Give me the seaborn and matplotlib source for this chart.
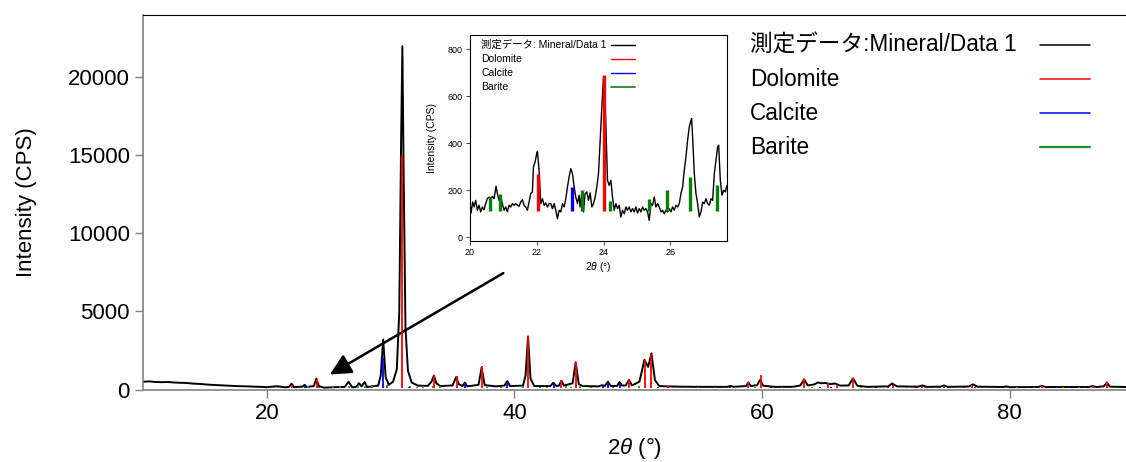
"""
XRD pattern with reference sticks (Dolomite / Calcite / Barite) and a zoomed inset.
"""

import numpy as np
import matplotlib
matplotlib.use('Agg')
import matplotlib.pyplot as plt
import seaborn as sns
from matplotlib.lines import Line2D

# ---------------------------------------------------------------------------
# Data

# measured pattern, full range (2theta in deg, intensity in CPS)
scan_x = [10.0, 10.5, 11.0, 11.5, 12.0, 12.5, 13.0, 13.5, 14.0, 14.5, 15.0, 15.5,
          16.0, 16.5, 17.0, 17.5, 18.0, 18.5, 19.0, 19.5, 20.0, 20.8, 21.5, 21.8,
          22.0, 22.2, 22.9, 23.05, 23.2, 23.8, 24.0, 24.2, 24.6, 26.3, 26.6, 26.9,
          27.2, 27.45, 27.65, 27.9, 28.1, 29.0, 29.2, 29.4, 29.6, 29.85, 30.2, 30.5,
          30.7, 30.85, 30.95, 31.05, 31.2, 31.4, 31.7, 32.2, 33.0, 33.3, 33.5, 33.7,
          34.0, 35.0, 35.3, 35.5, 35.8, 36.0, 36.2, 37.1, 37.35, 37.6, 38.5, 39.2,
          39.42, 39.65, 40.7, 40.9, 41.1, 41.3, 41.6, 42.9, 43.15, 43.4, 43.6, 43.8,
          44.0, 44.7, 44.95, 45.2, 45.5, 46.8, 47.1, 47.3, 47.55, 47.8, 48.3, 48.5,
          48.7, 49.0, 49.25, 49.5, 50.1, 50.5, 50.8, 51.07, 51.35, 51.7, 52.35, 53.5,
          55.0, 57.2, 57.45, 57.7, 58.7, 58.9, 59.1, 59.6, 59.85, 60.1, 61.0, 62.5,
          63.1, 63.4, 63.7, 64.2, 64.5, 64.8, 65.1, 65.5, 65.9, 66.3, 67.0, 67.35,
          67.7, 68.5, 70.2, 70.5, 70.9, 72.6, 72.95, 73.3, 74.4, 74.7, 75.0, 76.7,
          77.05, 77.4, 79.5, 79.75, 80.0, 82.3, 82.6, 82.9, 86.4, 86.7, 87.0, 87.6,
          87.85, 88.1, 89.4]
scan_y = [500, 520, 480, 470, 480, 450, 430, 420, 380, 360, 330, 300,
          280, 260, 240, 220, 210, 200, 180, 170, 150, 210, 140, 170,
          370, 150, 190, 300, 160, 220, 700, 220, 120, 170, 500, 140,
          160, 400, 200, 480, 160, 250, 900, 3200, 800, 300, 500, 1300,
          5000, 16000, 22000, 14000, 4000, 1200, 450, 250, 230, 500, 900, 400,
          220, 260, 800, 350, 220, 440, 200, 300, 1400, 280, 200, 250,
          540, 220, 250, 900, 3400, 700, 220, 220, 430, 220, 250, 560,
          250, 400, 1750, 350, 220, 200, 280, 220, 500, 220, 230, 480,
          250, 260, 620, 260, 500, 1900, 1450, 2320, 600, 220, 200, 180,
          170, 170, 230, 170, 220, 450, 220, 280, 620, 240, 170, 170,
          260, 650, 260, 320, 450, 400, 420, 350, 380, 250, 260, 720,
          240, 170, 200, 390, 200, 180, 260, 170, 180, 260, 170, 190,
          330, 180, 160, 200, 150, 160, 230, 160, 160, 220, 160, 200,
          450, 180, 160]

# measured pattern, zoomed region 20-27.7 deg
zoom_x = [20.00, 20.03, 20.08, 20.12, 20.17, 20.22, 20.27, 20.32, 20.37, 20.42, 20.47,
          20.52, 20.57, 20.62, 20.67, 20.72, 20.78, 20.82, 20.87, 20.92, 20.97, 21.02,
          21.07, 21.12, 21.17, 21.22, 21.27, 21.32, 21.37, 21.42, 21.47, 21.52, 21.57,
          21.62, 21.67, 21.72, 21.77, 21.82, 21.87, 21.90, 21.95, 22.00, 22.02, 22.07,
          22.12, 22.17, 22.22, 22.27, 22.32, 22.37, 22.42, 22.47, 22.52, 22.57, 22.62,
          22.67, 22.72, 22.77, 22.82, 22.87, 22.92, 22.97, 23.02, 23.07, 23.12, 23.17,
          23.22, 23.27, 23.30, 23.35, 23.40, 23.45, 23.50, 23.55, 23.60, 23.65, 23.70,
          23.75, 23.80, 23.85, 23.90, 23.95, 24.00, 24.03, 24.07, 24.12, 24.17, 24.22,
          24.27, 24.32, 24.37, 24.42, 24.47, 24.52, 24.57, 24.62, 24.67, 24.72, 24.77,
          24.82, 24.87, 24.92, 24.97, 25.02, 25.07, 25.12, 25.17, 25.22, 25.27, 25.32,
          25.37, 25.42, 25.47, 25.52, 25.57, 25.62, 25.67, 25.72, 25.77, 25.82, 25.87,
          25.92, 25.97, 26.02, 26.07, 26.12, 26.17, 26.22, 26.27, 26.32, 26.37, 26.42,
          26.47, 26.52, 26.57, 26.62, 26.64, 26.67, 26.72, 26.77, 26.82, 26.87, 26.92,
          26.97, 27.02, 27.07, 27.12, 27.17, 27.22, 27.27, 27.32, 27.37, 27.42, 27.45,
          27.50, 27.55, 27.60, 27.65, 27.70]
zoom_y = [142, 102, 149, 128, 156, 114, 135, 107, 128, 116, 142,
          163, 170, 163, 173, 163, 216, 185, 156, 173, 142, 114,
          128, 107, 135, 128, 142, 135, 142, 135, 131, 149, 159,
          135, 128, 114, 149, 185, 192, 298, 320, 355, 365, 284,
          142, 163, 135, 145, 128, 142, 142, 121, 142, 114, 78,
          114, 107, 142, 128, 163, 213, 256, 291, 270, 213, 170,
          142, 178, 128, 185, 107, 185, 192, 156, 188, 128, 142,
          170, 213, 270, 412, 554, 682, 668, 483, 241, 220, 241,
          170, 114, 142, 121, 135, 85, 114, 99, 128, 114, 128,
          107, 121, 107, 128, 102, 121, 107, 128, 114, 121, 107,
          71, 142, 135, 170, 128, 142, 128, 107, 114, 99, 114,
          107, 121, 107, 128, 114, 135, 128, 142, 185, 213, 284,
          341, 412, 469, 497, 504, 426, 270, 185, 142, 85, 107,
          149, 142, 163, 142, 135, 163, 156, 270, 327, 384, 391,
          241, 178, 199, 192, 220]

# reference sticks: positions (deg) and top intensity (CPS)
dolomite_pos = [22.03, 24.02, 30.94, 33.54, 35.33, 37.36, 41.13, 43.8, 44.94, 49.26,
                50.53, 51.06, 52.4, 58.9, 59.9, 63.4, 65.3, 66.05, 67.35, 70.55,
                72.95, 74.7, 77.0, 78.6, 79.75, 82.6, 86.7, 87.85]
dolomite_top = [270, 690, 15000, 900, 870, 1500, 3400, 600, 1750, 650,
                1900, 2300, 200, 450, 900, 650, 420, 300, 720, 300,
                230, 230, 260, 150, 180, 200, 200, 460]
calcite_pos = [23.05, 29.4, 31.45, 35.97, 39.42, 43.16, 47.12, 47.52, 48.52, 56.6,
               57.4, 60.7, 61.0, 64.7, 65.6, 69.2, 70.2, 72.4, 73.7, 76.3,
               77.2, 81.5, 83.8, 84.8, 86.1]
calcite_top = [215, 2000, 150, 400, 450, 380, 250, 420, 420, 150,
               180, 130, 120, 150, 130, 150, 140, 130, 140, 160,
               130, 150, 150, 140, 150]
barite_pos = [20.6, 20.9, 23.35, 24.2, 25.35, 25.9, 26.6, 27.4, 27.9, 28.5,
              29.7, 31.6, 32.1, 32.6, 33.4, 34.0, 37.8, 38.9, 40.7, 42.1,
              42.6, 44.2, 44.6, 45.3, 46.2, 48.0, 50.1, 51.6, 52.8, 53.9,
              54.8, 56.2, 57.8, 59.4, 61.6, 62.5, 64.0, 65.6, 68.0, 69.0,
              71.6, 73.2, 75.8, 78.1, 80.6, 82.0, 84.3, 85.6, 88.5]
barite_top = [170, 185, 200, 155, 160, 200, 255, 220, 250, 200,
              300, 200, 180, 200, 230, 200, 180, 160, 200, 180,
              160, 200, 180, 200, 160, 180, 200, 170, 160, 150,
              150, 160, 170, 160, 150, 150, 170, 160, 150, 150,
              150, 150, 150, 150, 150, 150, 150, 150, 150]
stick_base = 110

main_xticks = [20, 40, 60, 80]
main_yticks = [0, 5000, 10000, 15000, 20000]
zoom_xticks = [20, 22, 24, 26]
zoom_yticks = [0, 200, 400, 600, 800]

labels = ['測定データ:Mineral/Data 1', 'Dolomite', 'Calcite', 'Barite']
zoom_labels = ['測定データ: Mineral/Data 1', 'Dolomite', 'Calcite', 'Barite']

# ---------------------------------------------------------------------------
# Style

sns.set_style("ticks")
plt.rcParams['font.family'] = ['Liberation Sans', 'Noto Sans CJK JP', 'DejaVu Sans']
plt.rcParams['mathtext.fontset'] = 'custom'
plt.rcParams['mathtext.rm'] = 'Liberation Sans'
plt.rcParams['mathtext.it'] = 'Liberation Sans:italic'
plt.rcParams['text.color'] = 'k'
plt.rcParams['axes.labelcolor'] = 'k'

RED = '#ff0000'
BLUE = '#0000ff'
GREEN = '#1f8f1f'
GREY = '#808080'
W, H = 1126, 462

fig = plt.figure(figsize=(W / 100, H / 100), dpi=100)
ax = fig.add_axes([143 / W, 1 - 389.5 / H, 1 - 143 / W, (389.5 - 15) / H])


def fig_legend(labels, colors, lws, x_text, x_line, rows_y, fontsize):
    # legend drawn by hand: text left aligned, line sample on the right (pixel coords)
    for lab, col, lw, py in zip(labels, colors, lws, rows_y):
        fig.text(x_text / W, 1 - py / H, lab, ha='left', va='center', fontsize=fontsize)
        fig.add_artist(Line2D([x_line[0] / W, x_line[1] / W], [1 - py / H, 1 - py / H],
                              color=col, lw=lw, transform=fig.transFigure))


# ---------------------------------------------------------------------------
# Main plot

sns.lineplot(x=scan_x, y=scan_y, ax=ax, color='k', lw=1.4, estimator=None, sort=False, zorder=2)
ax.vlines(barite_pos, stick_base, barite_top, color=GREEN, lw=1.3, zorder=3)
ax.vlines(calcite_pos, stick_base, calcite_top, color=BLUE, lw=1.3, zorder=3)
ax.vlines(dolomite_pos, stick_base, dolomite_top, color=RED, lw=1.3, zorder=4)

ax.set_xlim(10, 89.4)
ax.set_ylim(0, 24000)
ax.set_xticks(main_xticks)
ax.set_yticks(main_yticks)
ax.tick_params(labelsize=16, length=6, width=1, color=GREY, labelcolor='k', direction='out')
ax.set_xlabel(r'2$\it{\theta}$ (°)', fontsize=16, labelpad=8)
ax.set_ylabel('Intensity (CPS)', fontsize=16, labelpad=22)

ax.spines['right'].set_visible(False)
ax.spines['top'].set_color('k')
ax.spines['left'].set_color(GREY)
ax.spines['bottom'].set_color(GREY)
ax.spines['left'].set_linewidth(1.2)
ax.spines['bottom'].set_linewidth(1.2)

fig_legend(labels, ['k', RED, BLUE, GREEN], [1.1, 1.1, 1.1, 1.6],
           750, (1040, 1090), [45, 79, 113, 147], 16.3)

# arrow pointing from the inset to the zoomed region
ax.annotate('', xy=(24.9, 870), xytext=(39.3, 7550),
            arrowprops=dict(arrowstyle='-|>', color='k', lw=1.8, mutation_scale=32))

# ---------------------------------------------------------------------------
# Inset

ins = fig.add_axes([470 / W, 1 - 241 / H, 257 / W, 206 / H])
sns.lineplot(x=zoom_x, y=zoom_y, ax=ins, color='k', lw=1.0, estimator=None, sort=False, zorder=2)
ins.vlines(barite_pos, stick_base, barite_top, color='#008000', lw=2.4, zorder=3)
ins.vlines(calcite_pos, stick_base, calcite_top, color=BLUE, lw=2.4, zorder=3)
ins.vlines(dolomite_pos, stick_base, dolomite_top, color=RED, lw=2.4, zorder=4)

ins.set_xlim(20, 27.7)
ins.set_ylim(-17, 860)
ins.set_xticks(zoom_xticks)
ins.set_yticks(zoom_yticks)
ins.tick_params(labelsize=6.5, length=3, width=0.6, labelcolor='k', direction='out', pad=2)
ins.set_xlabel(r'2$\it{\theta}$ (°)', fontsize=7.5, labelpad=2)
ins.set_ylabel('Intensity (CPS)', fontsize=7.5, labelpad=8)
for s in ins.spines.values():
    s.set_color('k')
    s.set_linewidth(0.8)

fig_legend(zoom_labels, ['k', RED, BLUE, GREEN], [1.0, 1.0, 1.0, 1.3],
           481, (611, 635), [45, 59, 73, 87], 7.5)

fig.savefig('out.png', dpi=100)
